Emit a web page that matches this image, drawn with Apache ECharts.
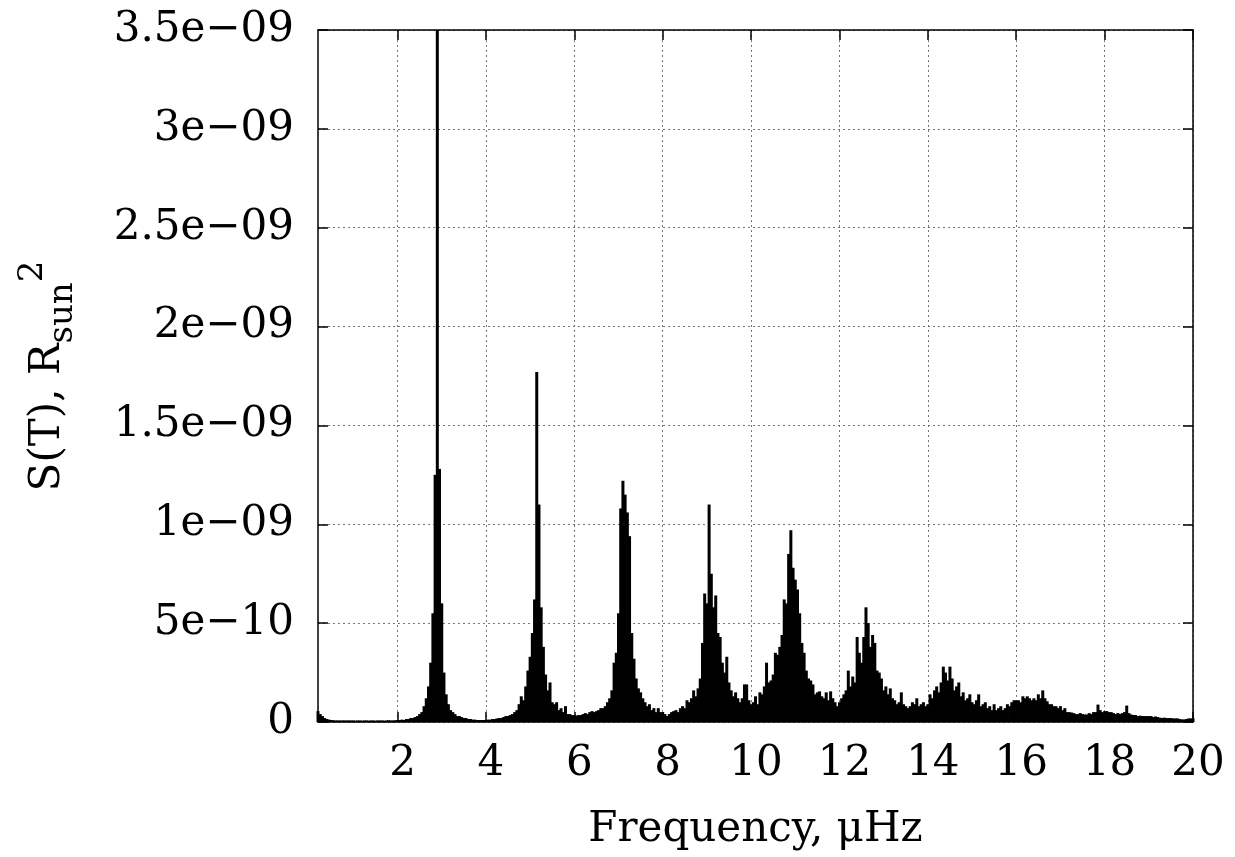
<!DOCTYPE html>
<html><head><meta charset="utf-8">
<script src="https://cdn.jsdelivr.net/npm/echarts@6/dist/echarts.min.js"></script>
<style>html,body{margin:0;padding:0;background:#fff}#c{width:1235px;height:857px}</style>
</head><body><div id="c"></div>
<script>
// Sampling grid of the spectrum (μHz)
const freqStart = 0.2;
const freqStep = 0.05;
// Spectral power S(T), in units of 1e-11 Rsun^2, one value per sample
// 0.20 – 4.95 μHz
const powerA = [
  5.5,4,3,2,1.5,1.2,1,0.9,0.8,0.8,0.8,0.8,0.8,0.8,0.8,0.8,
  0.8,0.7,0.8,0.8,0.7,0.8,0.8,0.7,0.8,0.8,0.7,0.8,0.8,0.8,0.7,0.8,0.9,0.8,0.8,0.9,
  1,1,1.2,1,1.5,1.5,2,2,2.5,3,4,5,8,12,18,30,55,125,360,128,
  60,25,14,9,6,5,4,3,3,2.5,2,2,1.5,1.5,1.2,1.2,1,1,1,1,
  1,1.2,1.2,1.5,1.5,1.8,2,2,2.5,3,3,3.5,4,5,6,9,13,11,18,26
];
// 5.00 – 9.95 μHz
const powerB = [
  33,45,62,177,110,58,38,24,16,20,10,9,10,6,7,5,8,4,4,3.5,
  3.5,3.3,3.5,3.5,4,4.5,4,5,5.5,5,5.5,6,7,7,8,10,12,16,30,35,
  55,108,122,115,106,94,45,32,22,17,15,12,10,8,9,6,7,5,7,5,
  5,4,3,4,5,5.5,6,5,7,8,7,11,10,12,16,13,17,22,40,65,
  60,110,75,58,64,45,43,30,25,33,20,16,13,15,12,10,12,19,19,11
];
// 10.00 – 14.95 μHz
const powerC = [
  9,10,13,9,15,14,18,30,20,21,24,35,34,38,44,62,60,85,97,78,
  72,67,55,40,35,26,22,21,19,14,15,15.5,13,12,15,11,15.5,12,10,8,
  10,12,14,16,26,18,23,20,43,35,30,43,58,50,38,44,40,26,25,22,
  16,18,14,17,12,11,9,10,15,9,8,7,8,10,9,12,8,9,10,8,
  9,14,12,16,18,15,20,28,25,21,28,22,16,18,20,13,15,11,12,14
];
// 15.00 – 20.00 μHz
const powerD = [
  10,9,11,14,8,9,10,7,8,6,9,6,7,8,6,7,9,8,10,11,
  11,11,10,13,12,13,12,11,12,11,14,12,16,12,10.5,9,9,8,8,7,
  8,6,7,5,5,4.8,4.5,4,4,4.5,4,3.8,3.8,4.5,4,5,5,8.8,6,5,
  5.5,5.5,5,5,4.5,4,4.5,4,4.5,5,8.3,4.5,3.8,3.5,3.5,3,3.2,3,3,3,
  3,3,2.5,2.8,2.5,2.2,2,2.2,2,2,2,1.8,1.8,1.8,1.5,1.3,1.3,1.5,1.8,1.8,
  1.8
];
const xTicks = [2,4,6,8,10,12,14,16,18,20];
const yTickLabels = ['0','5e\u221210','1e\u221209','1.5e\u221209','2e\u221209','2.5e\u221209','3e\u221209','3.5e\u221209'];

const power = powerA.concat(powerB, powerC, powerD);
const data = power.map((v, i) => [+(freqStart + i * freqStep).toFixed(2), v * 1e-11]);

const FONT = 'DejaVu Serif';
const FS = 42;
const black = '#000';
const axisLine = {show: true, onZero: false, lineStyle: {color: black, width: 1.5}};
const tickStyle = {color: black, width: 1.5};

const option = {
  animation: false,
  backgroundColor: '#fff',
  textStyle: {fontFamily: FONT},
  grid: {left: 318, right: 42, top: 30, bottom: 135, containLabel: false},
  xAxis: [{
    type: 'value', min: 0.2, max: 20, position: 'bottom',
    name: 'Frequency, \u03bcHz', nameLocation: 'middle', nameGap: 87,
    nameTextStyle: {fontFamily: FONT, fontSize: FS, color: black},
    axisLine: axisLine,
    axisTick: {show: true, inside: true, length: 10, customValues: xTicks, lineStyle: tickStyle},
    axisLabel: {show: true, customValues: xTicks, margin: 21, fontFamily: FONT, fontSize: FS, color: black,
      padding: [0, 0, 0, 10], formatter: v => String(v)},
    splitLine: {show: true, lineStyle: {color: '#777', type: [2, 3], width: 1}}
  }, {
    type: 'value', min: 0.2, max: 20, position: 'top',
    axisLine: axisLine,
    axisTick: {show: true, inside: true, length: 10, customValues: xTicks, lineStyle: tickStyle},
    axisLabel: {show: false},
    splitLine: {show: false}
  }],
  yAxis: [{
    type: 'value', min: 0, max: 3.5e-9, interval: 5e-10, position: 'left',
    name: '{m|S(T), R}{s|sun}{p|2}', nameLocation: 'middle', nameGap: 238, nameRotate: 90,
    nameMoveOverlap: false,
    nameTextStyle: {fontFamily: FONT, color: black,
      rich: {
        m: {fontFamily: FONT, fontSize: FS, color: black, lineHeight: 64, verticalAlign: 'middle'},
        s: {fontFamily: FONT, fontSize: 34, color: black, lineHeight: 38, verticalAlign: 'bottom'},
        p: {fontFamily: FONT, fontSize: 34, color: black, lineHeight: 30, verticalAlign: 'top'}
      }},
    axisLine: axisLine,
    axisTick: {show: true, inside: true, length: 10, lineStyle: tickStyle},
    axisLabel: {show: true, margin: 24, fontFamily: FONT, fontSize: FS, color: black,
      formatter: v => yTickLabels[Math.round(v / 5e-10)]},
    splitLine: {show: true, lineStyle: {color: '#777', type: [2, 3], width: 1}}
  }, {
    type: 'value', min: 0, max: 3.5e-9, interval: 5e-10, position: 'right',
    axisLine: axisLine,
    axisTick: {show: true, inside: true, length: 10, lineStyle: tickStyle},
    axisLabel: {show: false},
    splitLine: {show: false}
  }],
  series: [{
    type: 'bar', xAxisIndex: 0, yAxisIndex: 0, data: data,
    barWidth: 3, itemStyle: {color: black}, silent: true, clip: true
  }]
};
const chart = echarts.init(document.getElementById('c'), null, {renderer: 'canvas'});
chart.setOption(option);
</script></body></html>
